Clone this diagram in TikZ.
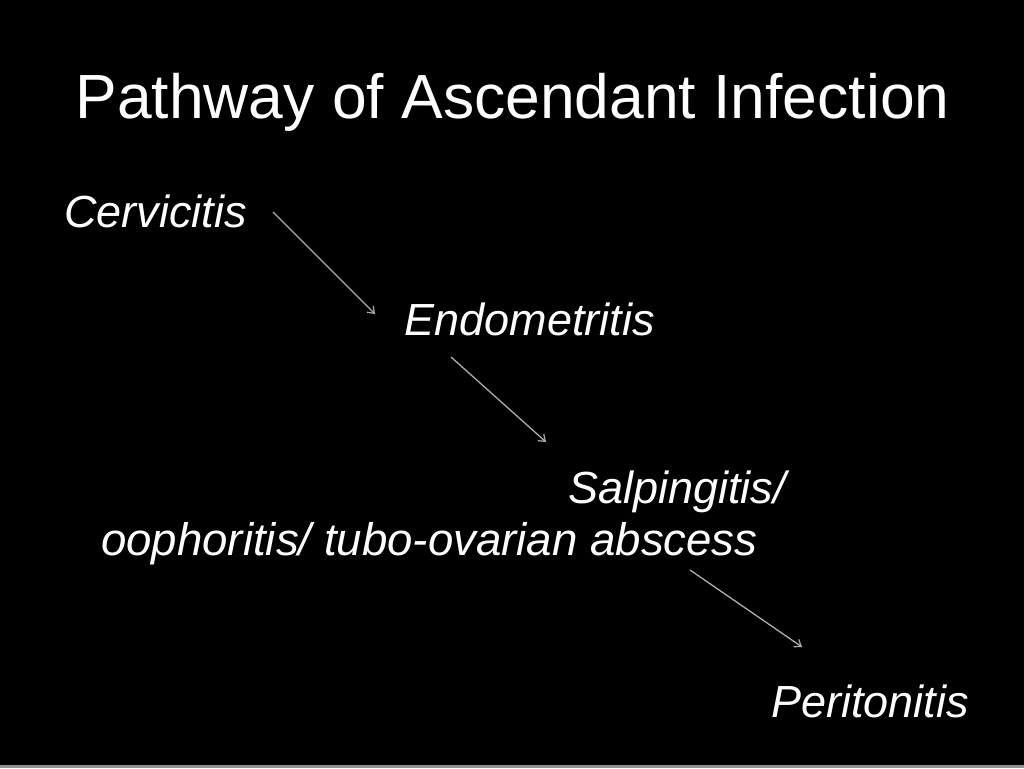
\documentclass[tikz,border=0pt]{standalone}
\usepackage{fontspec}
\setmainfont{Liberation Sans}
\usetikzlibrary{arrows.meta}
\tikzset{
  titletext/.style={text=white, inner sep=0pt, anchor=base, font=\fontsize{62.4}{74}\selectfont},
  itemtext/.style={text=white, inner sep=0pt, anchor=base west, font=\fontsize{45}{53}\selectfont\itshape},
  widetext/.style={itemtext, font=\fontsize{45.6}{53}\selectfont\itshape},
  flowarrow/.style={draw=white!68!black, line width=1.3pt, -{Straight Barb[length=6pt,width=9pt,line width=1.2pt]}}
}
\begin{document}
\begin{tikzpicture}[x=1pt,y=-1pt]
\fill[black] (0,0) rectangle (1024,768);
\fill[gray!85!white] (0,765) rectangle (1024,768);
\useasboundingbox (0,0) rectangle (1024,768);
\node[titletext] (title) at (512.5,118) {Pathway of Ascendant Infection};
\node[itemtext] (cerv) at (64,227) {Cervicitis};
\node[itemtext] (endo) at (404.5,335) {Endometritis};
\node[itemtext] (salp) at (568,503) {Salpingitis/};
\node[widetext] (ooph) at (101,555) {oophoritis/ tubo-ovarian abscess};
\node[itemtext] (peri) at (771,717) {Peritonitis};
\coordinate (a1s) at (273,212);
\coordinate (a1e) at (375,314);
\coordinate (a2s) at (451,357);
\coordinate (a2e) at (546,442);
\coordinate (a3s) at (690,570);
\coordinate (a3e) at (802,647);
\draw[flowarrow] (a1s) -- (a1e);
\draw[flowarrow] (a2s) -- (a2e);
\draw[flowarrow] (a3s) -- (a3e);
\end{tikzpicture}
\end{document}
